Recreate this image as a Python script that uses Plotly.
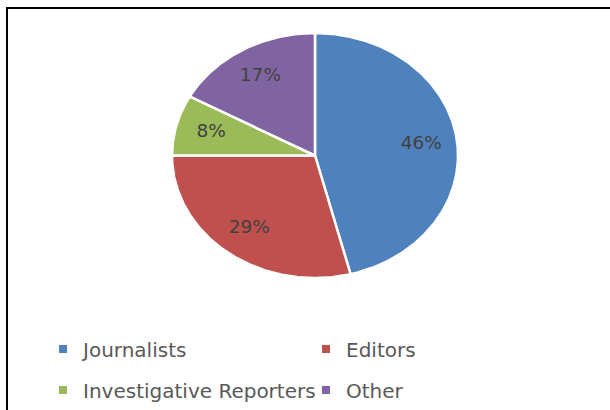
import numpy as np
import plotly.graph_objects as go

# Share of respondents by role (percent)
groups = ["Journalists", "Editors", "Investigative Reporters", "Other"]
shares = [46, 29, 8, 17]

colors = ["#4F81BD", "#C0504D", "#9BBB59", "#8064A2"]
legend_rows = ["legend", "legend", "legend2", "legend2"]

W, H = 610, 410
# pie centre and radii in pixels (the chart area is slightly wider than tall)
cx, cy, rx, ry = 315, 155.5, 143, 122.5

fig = go.Figure()

total = float(sum(shares))
sweep = np.array(shares) / total * 360.0
ends = np.cumsum(sweep)
starts = ends - sweep

# slices, clockwise from 12 o'clock, on a unit circle stretched by the axes
for name, v, a0, a1, col in zip(groups, shares, starts, ends, colors):
    t = np.radians(np.linspace(a0, a1, max(int((a1 - a0) * 2), 8)))
    xs = np.concatenate([[0.0], np.sin(t), [0.0]])
    ys = np.concatenate([[0.0], np.cos(t), [0.0]])
    fig.add_trace(go.Scatter(
        x=xs, y=ys, mode="lines", fill="toself", fillcolor=col,
        line=dict(color="white", width=2.5), name=name,
        showlegend=False, hoverinfo="skip"))

# percentage labels inside the slices
mid = np.radians((starts + ends) / 2.0)
lab_r = 0.75
fig.add_trace(go.Scatter(
    x=lab_r * np.sin(mid), y=lab_r * np.cos(mid), mode="text",
    text=[f"{v}%" for v in shares],
    textfont=dict(family="DejaVu Sans", size=18.5, color="#404040"),
    showlegend=False, hoverinfo="skip"))

# legend entries (square swatches)
for name, col, lg in zip(groups, colors, legend_rows):
    fig.add_trace(go.Scatter(
        x=[None], y=[None], mode="markers", name=name, legend=lg,
        marker=dict(symbol="square", size=8, color=col, line=dict(width=0)),
        showlegend=True))

legend_style = dict(
    orientation="h", xanchor="left", yanchor="middle",
    x=43 / W, entrywidth=218, entrywidthmode="pixels",
    font=dict(family="DejaVu Sans", size=20, color="#595959"),
    bgcolor="rgba(0,0,0,0)", borderwidth=0, itemsizing="trace",
    itemclick=False, itemdoubleclick=False)

fig.update_layout(
    width=W, height=H,
    margin=dict(l=0, r=0, t=0, b=0),
    paper_bgcolor="white", plot_bgcolor="white",
    xaxis=dict(range=[-cx / rx, (W - cx) / rx], visible=False, fixedrange=True),
    yaxis=dict(range=[(cy - H) / ry, cy / ry], visible=False, fixedrange=True),
    legend=dict(legend_style, y=1 - 349 / H),
    legend2=dict(legend_style, y=1 - 390 / H),
    shapes=[dict(type="rect", xref="paper", yref="paper",
                 x0=7 / W, y0=1 - 8 / H, x1=1.05, y1=-0.05,
                 line=dict(color="black", width=2), fillcolor="rgba(0,0,0,0)",
                 layer="above")],
    showlegend=True,
)

fig.write_html("out.html")
